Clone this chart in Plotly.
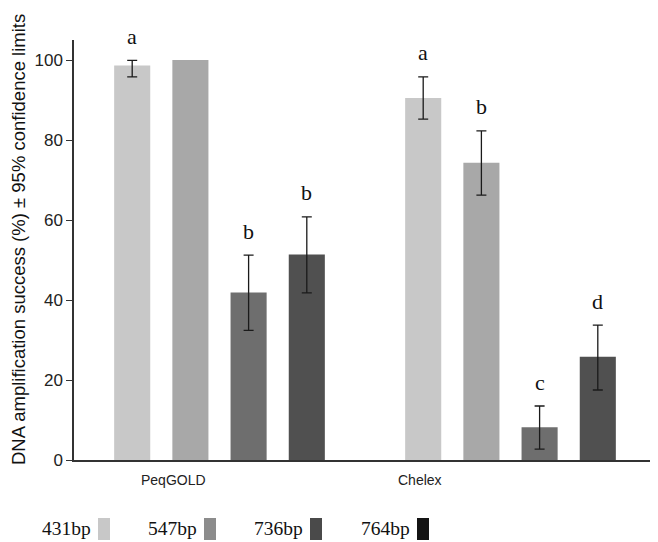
import plotly.graph_objects as go

# ---- data ----
groups = ["PeqGOLD", "Chelex"]
series = ["431bp", "547bp", "736bp", "764bp"]
values = {
    "431bp": [98.6, 90.5],
    "547bp": [100.0, 74.3],
    "736bp": [41.9, 8.2],
    "764bp": [51.4, 25.8],
}
err_plus = {
    "431bp": [1.3, 5.3],
    "547bp": [None, 8.0],
    "736bp": [9.3, 5.3],
    "764bp": [9.4, 7.9],
}
err_minus = {
    "431bp": [2.8, 5.3],
    "547bp": [None, 8.1],
    "736bp": [9.5, 5.5],
    "764bp": [9.6, 8.3],
}
letters = {
    "431bp": ["a", "a"],
    "547bp": ["", "b"],
    "736bp": ["b", "c"],
    "764bp": ["b", "d"],
}
bar_colors = ["#c8c8c8", "#a8a8a8", "#6e6e6e", "#505050"]
legend_colors = ["#c8c8c8", "#8c8c8c", "#4a4a4a", "#141414"]
y_ticks = [0, 20, 40, 60, 80, 100]

# ---- layout constants (pixels); page body adds an 8px offset ----
OFF = 8
W, H = 658 - OFF, 542 - OFF
L, T = 74 - OFF, 40 - OFF
PW, PH = 582, 420
R = W - L - PW
B = H - T - PH


def px(x):
    # reference page x -> paper
    return (x - OFF - L) / PW


def py(y):
    # reference page y -> paper
    return (T + PH - (y - OFF)) / PH


def no_missing(arr):
    # missing error values are passed as non-numeric so no bar is drawn
    return [v if v is not None else "NaN" for v in arr]


fig = go.Figure()
for i, s in enumerate(series):
    fig.add_trace(go.Bar(
        x=groups, y=values[s], name=s,
        marker=dict(color=bar_colors[i], line=dict(width=0)),
        error_y=dict(type="data", symmetric=False,
                     array=no_missing(err_plus[s]),
                     arrayminus=no_missing(err_minus[s]),
                     color="#1a1a1a", thickness=1.3, width=5,
                     visible=True),
        showlegend=False,
    ))

annotations = []
offsets = [-0.3, -0.1, 0.1, 0.3]
for i, s in enumerate(series):
    for g in range(len(groups)):
        if letters[s][g]:
            top = values[s][g] + (err_plus[s][g] or 0)
            annotations.append(dict(
                x=g + offsets[i], y=top,
                xref="x", yref="y", text=letters[s][g], showarrow=False,
                yanchor="middle", yshift=24,
                font=dict(family="Liberation Serif", size=22, color="#111"),
            ))

# group labels (placed as in reference)
for name, cx in zip(groups, [173, 420]):
    annotations.append(dict(
        x=px(cx), y=py(480), xref="paper", yref="paper", text=name,
        showarrow=False, xanchor="center", yanchor="middle",
        font=dict(family="Liberation Sans", size=14, color="#222"),
    ))

# y-axis title
annotations.append(dict(
    x=px(18), y=py(240), xref="paper", yref="paper",
    text="DNA amplification success (%) ± 95% confidence limits",
    textangle=-90, showarrow=False, xanchor="center", yanchor="middle",
    font=dict(family="Liberation Sans", size=18.5, color="#111"),
))

# custom legend: text then swatch
shapes = []
text_right = [93, 199, 305, 412]
for i, s in enumerate(series):
    annotations.append(dict(
        x=px(text_right[i]), y=py(528), xref="paper", yref="paper",
        text=s, showarrow=False, xanchor="right", yanchor="middle",
        font=dict(family="Liberation Serif", size=19.5, color="#111"),
    ))
    x0 = text_right[i] + 5
    shapes.append(dict(
        type="rect", xref="paper", yref="paper",
        x0=px(x0), x1=px(x0 + 12), y0=py(540), y1=py(518),
        fillcolor=legend_colors[i], line=dict(width=0),
    ))

fig.update_layout(
    width=W, height=H,
    margin=dict(l=L, r=R, t=T, b=B),
    paper_bgcolor="white", plot_bgcolor="white",
    barmode="group", bargap=0.2, bargroupgap=0.38,
    annotations=annotations, shapes=shapes,
    xaxis=dict(
        type="category", range=[-0.5, 1.5], showticklabels=False,
        ticks="", showgrid=False, zeroline=False,
        showline=True, linecolor="#333", linewidth=1.5,
    ),
    yaxis=dict(
        range=[0, 105], tickvals=y_ticks, ticks="outside", ticklen=6,
        tickcolor="#333", tickwidth=1.2, showgrid=False, zeroline=False,
        showline=True, linecolor="#333", linewidth=1.5,
        tickfont=dict(family="Liberation Sans", size=17, color="#222"),
    ),
)

fig.write_html("out.html")
